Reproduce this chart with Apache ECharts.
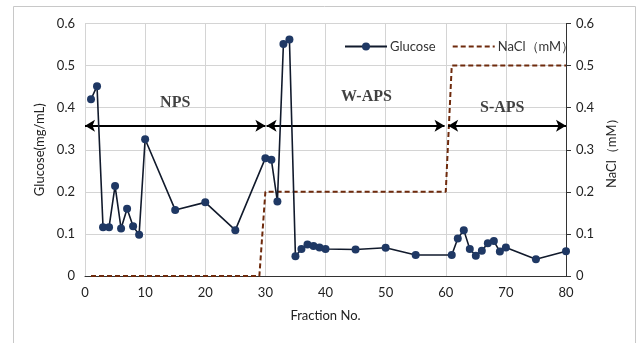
<!DOCTYPE html>
<html><head><meta charset="utf-8">
<script src="https://cdn.jsdelivr.net/npm/echarts@6/dist/echarts.min.js"></script>
<style>html,body{margin:0;padding:0;background:#fff}#c{width:640px;height:343px}</style>
</head><body><div id="c"></div>
<script>
var glucoseX = [1,2,3,4,5,6,7,8,9,10,15,20,25,30,31,32,33,34,35,36,37,38,39,40,45,50,55,61,62,63,64,65,66,67,68,69,70,75,80];
var glucoseY = [0.42,0.451,0.116,0.116,0.214,0.113,0.16,0.118,0.098,0.325,0.157,0.175,0.109,0.28,0.276,0.177,0.551,0.562,0.047,0.064,0.075,0.071,0.068,0.064,0.063,0.067,0.05,0.05,0.089,0.109,0.064,0.048,0.06,0.078,0.083,0.058,0.068,0.04,0.059];
var naclX = [1,29,30,60,61,80];
var naclY = [0,0,0.2,0.2,0.5,0.5];
var regionNames = ['NPS','W-APS','S-APS'];
var regionStart = [0,30.2,60.4];
var regionEnd = [30,59.8,80];
var regionArrowY = 0.357;
var regionLabelX = [15,46.8,69.4];
var regionLabelY = [0.411,0.425,0.400];
var xTicks = {min:0,max:80,interval:10};
var yTicks = {min:0,max:0.6,interval:0.1};

var font = 'Lato, "Noto Sans", sans-serif';
var chart = echarts.init(document.getElementById('c'), null, {renderer:'canvas'});
function zip(a,b){return a.map(function(v,i){return [v,b[i]];});}
var arrowData = regionNames.map(function(n,i){
  return [{coord:[regionStart[i],regionArrowY]},{coord:[regionEnd[i],regionArrowY]}];
});
var labelData = regionNames.map(function(n,i){return {value:[regionLabelX[i],regionLabelY[i]],name:n};});
chart.setOption({
  animation:false,
  backgroundColor:'#fff',
  graphic:[{type:'rect',shape:{x:13.5,y:6.5,width:622,height:345},style:{fill:'none',stroke:'#c8c8c8',lineWidth:1},silent:true,z:-10}],
  grid:{left:85,right:74,top:23.5,bottom:67},
  legend:{
    data:['Glucose',{name:'NaCl（mM）',itemStyle:{opacity:0}}],
    left:339, top:35, itemWidth:42, itemHeight:10, itemGap:16,
    textStyle:{fontFamily:font,fontSize:13,color:'#333',padding:[0,0,0,-2]}
  },
  xAxis:{
    type:'value', min:xTicks.min, max:xTicks.max, interval:xTicks.interval,
    name:'Fraction No.', nameLocation:'middle', nameGap:33,
    nameTextStyle:{fontFamily:font,fontSize:13,color:'#222'},
    axisLine:{show:true,lineStyle:{color:'#333',width:1}},
    axisTick:{show:false},
    axisLabel:{fontFamily:font,fontSize:13,color:'#222',margin:10},
    splitLine:{show:true,lineStyle:{color:'#d4d4d4',width:1}}
  },
  yAxis:[{
    type:'value', min:yTicks.min, max:yTicks.max, interval:yTicks.interval, position:'left',
    name:'Glucose(mg/mL)', nameLocation:'middle', nameGap:29, nameRotate:90,
    nameTextStyle:{fontFamily:font,fontSize:13,color:'#222'},
    axisLine:{show:true,lineStyle:{color:'#d4d4d4'}},
    axisTick:{show:false},
    axisLabel:{fontFamily:font,fontSize:13,color:'#222',margin:10},
    splitLine:{show:true,lineStyle:{color:'#d4d4d4',width:1}}
  },{
    type:'value', min:yTicks.min, max:yTicks.max, interval:yTicks.interval, position:'right',
    name:'NaCl（mM）', nameLocation:'middle', nameGap:38, nameRotate:90,
    nameTextStyle:{fontFamily:font,fontSize:13,color:'#222'},
    axisLine:{show:true,lineStyle:{color:'#333'}},
    axisTick:{show:true,length:5,inside:false,lineStyle:{color:'#333'}},
    axisLabel:{fontFamily:font,fontSize:13,color:'#222',margin:10},
    splitLine:{show:false}
  }],
  series:[{
    name:'Glucose', type:'line', yAxisIndex:0, data:zip(glucoseX,glucoseY),
    symbol:'circle', symbolSize:8,
    lineStyle:{color:'#111a2c',width:1.6},
    itemStyle:{color:'#1f3864'},
    z:5,
    markLine:{
      silent:true, symbol:['arrow','arrow'], symbolSize:[9,10],
      lineStyle:{color:'#000',width:2,type:'solid'},
      label:{show:false},
      data:arrowData
    }
  },{
    name:'NaCl（mM）', type:'line', yAxisIndex:1, data:zip(naclX,naclY),
    symbol:'none',
    lineStyle:{color:'#6e2a0c',width:2,type:[5,3]},
    itemStyle:{color:'#6e2a0c'},
    z:4
  },{
    name:'regions', type:'scatter', yAxisIndex:0, data:labelData,
    symbolSize:0, silent:true,
    label:{show:true,position:'inside',formatter:'{b}',fontFamily:'"Liberation Serif", serif',fontSize:16,fontWeight:'bold',color:'#111'}
  }]
});
</script></body></html>
